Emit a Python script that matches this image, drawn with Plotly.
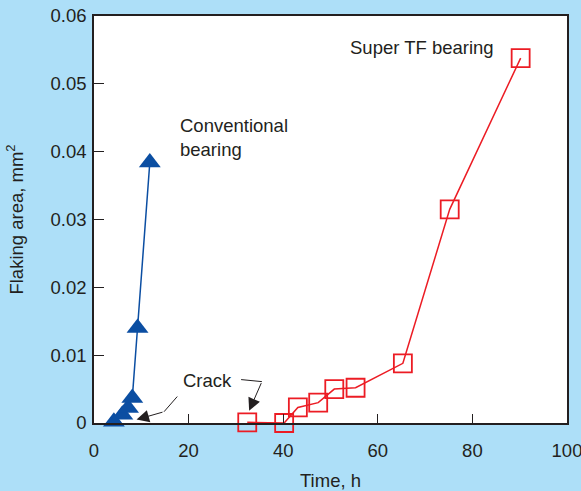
import plotly.graph_objects as go

# Data
conv_time = [4.2, 6.0, 7.2, 8.1, 9.2, 11.8]
conv_area = [0.0002, 0.0012, 0.0022, 0.0037, 0.0140, 0.0384]

super_time = [32.4, 40.2, 43.1, 47.4, 50.8, 55.3, 65.3, 75.2, 90.2]
super_area = [0.0001, 0.0000, 0.0023, 0.0030, 0.0050, 0.0052, 0.0088, 0.0315, 0.0538]

x_ticks = [0, 20, 40, 60, 80, 100]
y_ticks = [0, 0.01, 0.02, 0.03, 0.04, 0.05, 0.06]

TEXT = "#231f20"
BLUE = "#0b4ea2"
RED = "#ec1c24"
BG = "#addff8"
FONT = "Liberation Sans, Arial, sans-serif"

fig = go.Figure()
fig.add_trace(go.Scatter(
    x=conv_time, y=conv_area, mode="lines+markers",
    line=dict(color=BLUE, width=1.5),
    marker=dict(symbol="triangle-up", size=19, color=BLUE, line=dict(width=0)),
    cliponaxis=False, showlegend=False))
fig.add_trace(go.Scatter(
    x=super_time, y=super_area, mode="lines+markers",
    line=dict(color=RED, width=1.5),
    marker=dict(symbol="square-open", size=18, color=RED, line=dict(width=1.8)),
    cliponaxis=False, showlegend=False))

tf = dict(family=FONT, size=18.5, color=TEXT)

# text labels
fig.add_annotation(x=17.8, y=0.0421, text="Conventional<br>bearing", showarrow=False,
                   xanchor="left", yanchor="middle", align="left", font=tf)
fig.add_annotation(x=53.7, y=0.0554, text="Super TF bearing", showarrow=False,
                   xanchor="left", yanchor="middle", font=tf)
fig.add_annotation(x=18.4, y=0.0062, text="Crack", showarrow=False,
                   xanchor="left", yanchor="middle", font=tf)

# crack arrows (two-segment leaders)
arrow_legs = [
    ((17.6, 0.0039), (14.8, 0.00166), (9.0, 0.0005)),
    ((31.1, 0.0064), (35.5, 0.0061), (32.8, 0.0018)),
]
for p1, p2, tip in arrow_legs:
    fig.add_shape(type="line", x0=p1[0], y0=p1[1], x1=p2[0], y1=p2[1],
                  xref="x", yref="y", line=dict(color=TEXT, width=1))
    fig.add_annotation(x=tip[0], y=tip[1], ax=p2[0], ay=p2[1], xref="x", yref="y",
                       axref="x", ayref="y", text="", showarrow=True,
                       arrowhead=2, arrowsize=2.5, arrowwidth=1, arrowcolor=TEXT)

fig.update_xaxes(
    range=[0, 100], tickvals=x_ticks, ticks="inside", ticklen=9, tickwidth=1,
    tickcolor=TEXT, showline=True, linecolor=TEXT, linewidth=1.5, mirror=True,
    showgrid=False, zeroline=False, tickfont=tf, ticklabelstandoff=10,
    ticklabeloverflow="allow", automargin=False,
    title=dict(text="Time, h", font=tf, standoff=18))
fig.update_yaxes(
    range=[0, 0.06], tickvals=y_ticks, ticks="inside", ticklen=10, tickwidth=1,
    tickcolor=TEXT, showline=True, linecolor=TEXT, linewidth=1.5, mirror=True,
    showgrid=False, zeroline=False, tickfont=tf, ticklabelstandoff=2,
    ticklabeloverflow="allow", automargin=False,
    title=dict(text="Flaking area, mm<sup>2</sup>", font=tf, standoff=22))

fig.update_layout(
    width=581, height=491,
    margin=dict(l=94, r=14, t=16, b=68),
    paper_bgcolor=BG, plot_bgcolor="white",
    font=tf)

fig.write_html("out.html")
